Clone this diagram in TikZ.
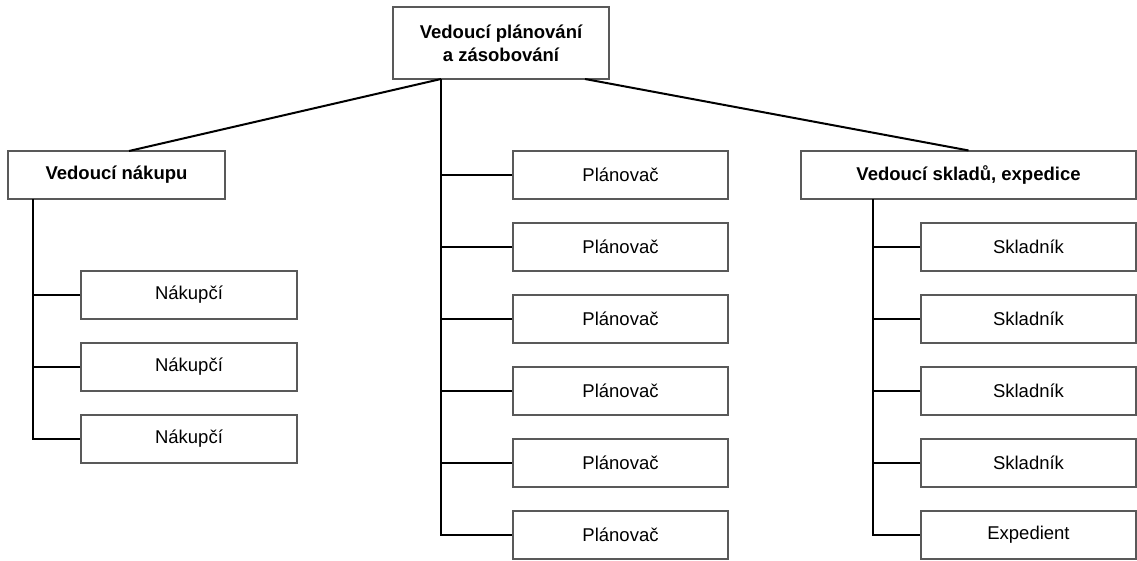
\documentclass[tikz,border=0pt]{standalone}
\usepackage{fontspec}
\setmainfont{Liberation Sans}
\begin{document}
\begin{tikzpicture}[x=1pt,y=-1pt,
  box/.style={draw=black!65,line width=1.1pt,fill=white,inner sep=0pt,
    minimum height=48pt,align=center,font=\fontsize{18.5}{23}\selectfont},
  head/.style={box,font=\fontsize{18.5}{23}\selectfont\bfseries},
  link/.style={draw=black,line width=2pt}]
\useasboundingbox (0,0) rectangle (1137,560);

% top manager
\node[head,minimum width=216pt,minimum height=72pt] (top) at (501,43) {Vedoucí plánování\\a zásobování};

% department heads
\node[head,minimum width=217pt] (buy) at (116.5,175) {Vedoucí nákupu};
\node[head,minimum width=335pt] (store) at (968.5,175) {Vedoucí skladů, expedice};

% purchasing staff
\foreach \i/\y in {1/295,2/367,3/439}
  \node[box,minimum width=216pt] (n\i) at (189,\y) {Nákupčí};

% planners
\foreach \i/\y in {1/175,2/247,3/319,4/391,5/463,6/535}
  \node[box,minimum width=215pt] (p\i) at (620.5,\y) {Plánovač};

% warehouse staff
\foreach \i/\y in {1/247,2/319,3/391,4/463}
  \node[box,minimum width=215pt] (s\i) at (1028.5,\y) {Skladník};
\node[box,minimum width=215pt] (s5) at (1028.5,535) {Expedient};

% connector coordinates
\coordinate (tstem) at (441,79);
\coordinate (tright) at (585,79);
\coordinate (buytop) at (129,151);
\coordinate (buystem) at (33,199);
\coordinate (storestem) at (873,199);

% top-level links
\draw[link] (tstem) -- (buytop);
\draw[link] (tright) -- (store.north);

% left branch
\draw[link] (buystem) |- (n3.west);
\foreach \i in {1,2} \draw[link] (n\i.west) -- (buystem |- n\i.west);

% middle branch
\draw[link] (tstem) |- (p6.west);
\foreach \i in {1,...,5} \draw[link] (p\i.west) -- (tstem |- p\i.west);

% right branch
\draw[link] (storestem) |- (s5.west);
\foreach \i in {1,...,4} \draw[link] (s\i.west) -- (storestem |- s\i.west);
\end{tikzpicture}
\end{document}
